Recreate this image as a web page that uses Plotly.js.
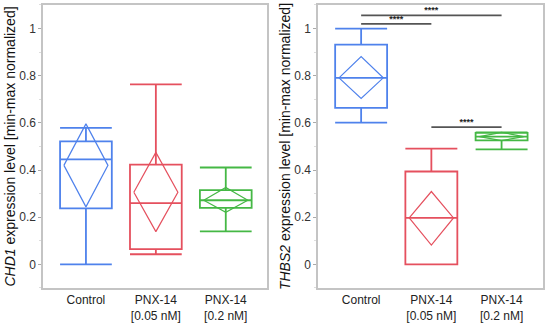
<!DOCTYPE html>
<html>
<head>
<meta charset="utf-8">
<script src="https://cdn.plot.ly/plotly-3.0.1.min.js"></script>
<style>html,body{margin:0;padding:0;background:#fff;}#chart{width:550px;height:326px;}</style>
</head>
<body>
<div id="chart"></div>
<script>
// ---- data ----
const categoryPos = [0, 1, 2];
const categoryLabels = ['Control', 'PNX-14<br>[0.05 nM]', 'PNX-14<br>[0.2 nM]'];
const groupColors = ['#4f82ec', '#e5505e', '#45b845'];

// CHD1 panel
const chd1Lower  = [0.000, 0.043, 0.140];
const chd1Q1     = [0.238, 0.065, 0.240];
const chd1Median = [0.445, 0.260, 0.272];
const chd1Q3     = [0.522, 0.423, 0.315];
const chd1Upper  = [0.579, 0.763, 0.411];
const chd1Mean   = [0.420, 0.306, 0.272];
const chd1CiLo   = [0.244, 0.139, 0.221];
const chd1CiHi   = [0.596, 0.475, 0.326];

// THBS2 panel
const thbs2Lower  = [0.601, 0.000, 0.488];
const thbs2Q1     = [0.664, 0.000, 0.526];
const thbs2Median = [0.791, 0.197, 0.542];
const thbs2Q3     = [0.932, 0.394, 0.558];
const thbs2Upper  = [1.000, 0.491, 0.560];
const thbs2Mean   = [0.791, 0.197, 0.542];
const thbs2CiLo   = [0.704, 0.082, 0.525];
const thbs2CiHi   = [0.881, 0.309, 0.560];

// significance brackets (THBS2 panel)
const sigFrom   = [0, 0, 1];
const sigTo     = [1, 2, 2];
const sigHeight = [1.020, 1.056, 0.582];
const sigLabel  = ['****', '****', '****'];

// ---- build ----
const BOX_W = 0.74, DIA_HW = 0.315;
const traces = [];
function addPanel(xa, ya, lo, q1, med, q3, up, mean, ciLo, ciHi) {
  categoryPos.forEach((p, i) => {
    traces.push({
      type: 'box', x: [p], q1: [q1[i]], median: [med[i]], q3: [q3[i]],
      lowerfence: [lo[i]], upperfence: [up[i]],
      width: BOX_W, whiskerwidth: 1, boxpoints: false,
      fillcolor: 'rgba(0,0,0,0)', line: {color: groupColors[i], width: 1.8},
      xaxis: xa, yaxis: ya, showlegend: false, hoverinfo: 'skip'
    });
    traces.push({
      type: 'scatter', mode: 'lines',
      x: [p - DIA_HW, p, p + DIA_HW, p, p - DIA_HW],
      y: [mean[i], ciHi[i], mean[i], ciLo[i], mean[i]],
      line: {color: groupColors[i], width: 1.2},
      xaxis: xa, yaxis: ya, showlegend: false, hoverinfo: 'skip'
    });
  });
}
addPanel('x', 'y', chd1Lower, chd1Q1, chd1Median, chd1Q3, chd1Upper, chd1Mean, chd1CiLo, chd1CiHi);
addPanel('x2', 'y2', thbs2Lower, thbs2Q1, thbs2Median, thbs2Q3, thbs2Upper, thbs2Mean, thbs2CiLo, thbs2CiHi);

sigFrom.forEach((f, i) => {
  const a = categoryPos[f], b = categoryPos[sigTo[i]];
  traces.push({
    type: 'scatter', mode: 'lines', x: [a, b], y: [sigHeight[i], sigHeight[i]],
    line: {color: '#555', width: 1.8}, xaxis: 'x2', yaxis: 'y2',
    showlegend: false, hoverinfo: 'skip', cliponaxis: false
  });
  traces.push({
    type: 'scatter', mode: 'text', x: [(a + b) / 2], y: [sigHeight[i]],
    text: ['<b>' + sigLabel[i] + '</b>'], textposition: 'top center',
    textfont: {family: 'Liberation Sans, Arial, sans-serif', size: 9, color: '#222'},
    xaxis: 'x2', yaxis: 'y2', showlegend: false, hoverinfo: 'skip', cliponaxis: false
  });
});

const yTickVals = [0, 0.2, 0.4, 0.6, 0.8, 1];
const yTickText = ['0', '0.2', '0.4', '0.6', '0.8', '1'];
const fontFam = 'Liberation Sans, Arial, sans-serif';
function xAxis(domain, anchor) {
  return {
    domain: domain, anchor: anchor, range: [-0.614, 2.59],
    tickvals: categoryPos, ticktext: categoryLabels, ticks: '',
    showgrid: false, zeroline: false, showline: true, mirror: true,
    linecolor: '#c4c4c4', linewidth: 1.6,
    tickfont: {family: fontFam, size: 12, color: '#222'}
  };
}
function yAxis(anchor, titleHtml) {
  return {
    domain: [0.1166, 0.9847], anchor: anchor, range: [-0.1, 1.1],
    tickvals: yTickVals, ticktext: yTickText, ticks: 'outside', ticklen: 3,
    tickcolor: '#aaa', tickwidth: 1,
    minor: {tickvals: [-0.1, 0.1, 0.3, 0.5, 0.7, 0.9, 1.1], ticks: 'outside', ticklen: 2, tickcolor: '#ddd'},
    showgrid: false, zeroline: false, showline: true, mirror: true,
    linecolor: '#c4c4c4', linewidth: 1.6,
    tickfont: {family: fontFam, size: 12, color: '#333'},
    title: {text: titleHtml, font: {family: fontFam, size: 14, color: '#111'}, standoff: 0}
  };
}

const layout = {
  width: 550, height: 326,
  margin: {l: 0, r: 0, t: 0, b: 0},
  paper_bgcolor: '#fff', plot_bgcolor: '#fff',
  showlegend: false,
  xaxis: xAxis([0.0782, 0.4855], 'y'),
  yaxis: yAxis('x', '<i>CHD1</i> expression level [min-max normalized]'),
  xaxis2: xAxis([0.5782, 0.9873], 'y2'),
  yaxis2: yAxis('x2', '<i>THBS2</i> expression level [min-max normalized]')
};

Plotly.newPlot('chart', traces, layout, {staticPlot: true, displayModeBar: false});
</script>
</body>
</html>
